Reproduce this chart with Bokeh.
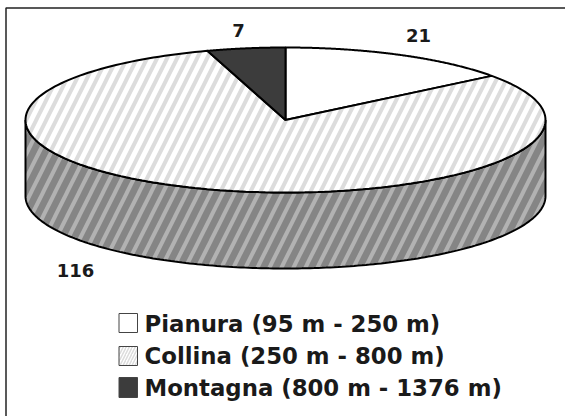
import math
from bokeh.plotting import figure
from bokeh.models import Range1d
from bokeh.core.properties import value
from bokeh.embed import file_html
from bokeh.resources import INLINE

categories = ["Pianura (95 m - 250 m)", "Collina (250 m - 800 m)", "Montagna (800 m - 1376 m)"]
counts = [21, 116, 7]
CX, CY, RX, RY, DEPTH = 285, 119.5, 260, 72.5, 76
FONT = value("DejaVu Sans")

p = figure(width=565, height=416, output_backend="svg", toolbar_location=None,
           x_range=Range1d(0, 565), y_range=Range1d(416, 0),
           min_border=0, outline_line_color=None, background_fill_color="white",
           border_fill_color="white")
p.axis.visible = False
p.grid.visible = False


def pt(a, drop=0.0):
    return CX + RX * math.sin(a), CY - RY * math.cos(a) + drop


def arc(a0, a1, drop=0.0, n=200):
    pts = [pt(a0 + (a1 - a0) * i / n, drop) for i in range(n + 1)]
    return [q[0] for q in pts], [q[1] for q in pts]


# frame
p.line([5.5, 5.5, 565], [416, 7.5, 7.5], line_color="#222222", line_width=1.5)

# side wall
tx, ty = arc(math.pi / 2, 3 * math.pi / 2)
bx, by = arc(3 * math.pi / 2, math.pi / 2, DEPTH)
p.patch(tx + bx, ty + by, fill_color="#858585", line_color="black", line_width=2,
        hatch_pattern="right_diagonal_line", hatch_color="#b2b2b2", hatch_scale=24, hatch_weight=4)

# top slices, from the top clockwise: Pianura, Collina, Montagna
total = sum(counts)
styles = [
    dict(fill_color="white"),
    dict(fill_color="white", hatch_pattern="right_diagonal_line", hatch_color="#dcdcdc", hatch_scale=20, hatch_weight=4),
    dict(fill_color="#3c3c3c"),
]
start = 0.0
for c, st in zip(counts, styles):
    end = start + 2 * math.pi * c / total
    ax, ay = arc(start, end)
    p.patch([CX] + ax, [CY] + ay, line_color="black", line_width=2, **st)
    start = end

# value labels
for v, x, y in zip(counts, [418, 75, 238], [35, 270, 30]):
    p.text([x], [y], text=[str(v)], text_font=FONT, text_font_style="bold", text_font_size="18px",
           text_color="#1a1a1a", text_align="center", text_baseline="middle")

# legend
boxes = [(313, 332), (346, 365), (377, 397)]
centers = [323, 355, 387]
for name, (y0, y1), b, st in zip(categories, boxes, centers, styles):
    p.quad(left=[118.5], right=[137], top=[y0], bottom=[y1], line_color="#444444", line_width=1, **{**st, **({"hatch_scale": 6, "hatch_weight": 1.5} if "hatch_pattern" in st else {})})
    p.text([144], [b], text=[name], text_font=FONT, text_font_style="bold", text_font_size="22.8px",
           text_color="#1a1a1a", text_align="left", text_baseline="middle")

open("out.html", "w").write(file_html(p, INLINE))
